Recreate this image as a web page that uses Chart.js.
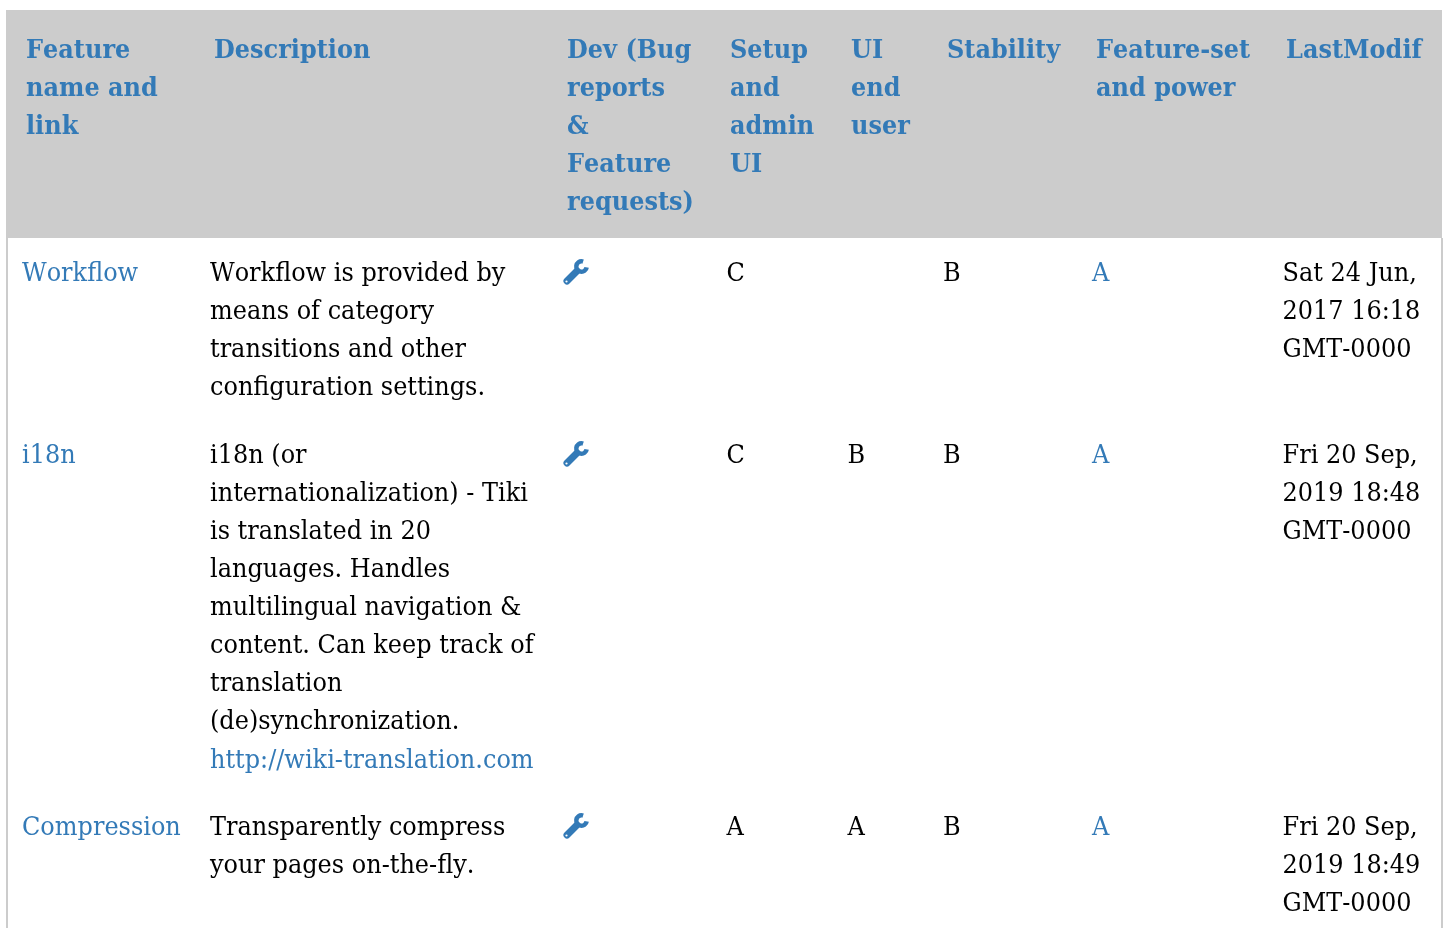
<!DOCTYPE html>
<html>
<head>
<meta charset="utf-8">
<title>Features</title>
<script src="https://cdn.jsdelivr.net/npm/chart.js@4"></script>
<style>
  html, body { margin: 0; padding: 0; background: #fff; overflow: hidden; }
  canvas { display: block; }
</style>
</head>
<body>
<canvas id="out" width="1448" height="928"></canvas>
<script>
// table content
const headers = [
  ["Feature", "name and", "link"],
  ["Description"],
  ["Dev (Bug", "reports", "&", "Feature", "requests)"],
  ["Setup", "and", "admin", "UI"],
  ["UI", "end", "user"],
  ["Stability"],
  ["Feature-set", "and power"],
  ["LastModif"]
];
const featureNames = ["Workflow", "i18n", "Compression"];
const descriptions = [
  ["Workflow is provided by", "means of category", "transitions and other", "configuration settings."],
  ["i18n (or", "internationalization) - Tiki", "is translated in 20", "languages. Handles", "multilingual navigation &", "content. Can keep track of", "translation", "(de)synchronization."],
  ["Transparently compress", "your pages on-the-fly."]
];
const descriptionLinks = [null, "http://wiki-translation.com", null];
const setupGrades = ["C", "C", "A"];
const uiGrades = ["", "B", "A"];
const stabilityGrades = ["B", "B", "B"];
const featureSetGrades = ["A", "A", "A"];
const lastModified = [
  ["Sat 24 Jun,", "2017 16:18", "GMT-0000"],
  ["Fri 20 Sep,", "2019 18:48", "GMT-0000"],
  ["Fri 20 Sep,", "2019 18:49", "GMT-0000"]
];

// layout, in page pixels
const headerX = [26, 214, 567, 730, 851, 947, 1096, 1286];
const bodyX = [22, 210, 563, 726.5, 847.5, 943, 1092, 1282.5];
const rowBaseline = [280.7, 462.7, 834.7];
const headerBaseline = 58;
const lineStep = 38;
const textStretch = 1.1; // the reference glyphs are a bit taller than they are wide
const linkColor = "#337ab7";
const textFont = '24px "DejaVu Serif"';
const headerFont = 'bold 24px "DejaVu Serif"';

// wrench icon used as the point style of the Dev column
function makeWrench() {
  const c = document.createElement("canvas");
  c.width = 30;
  c.height = 30;
  const g = c.getContext("2d");
  g.strokeStyle = linkColor;
  g.lineCap = "round";
  g.lineWidth = 7;
  g.beginPath();
  g.moveTo(6, 24);
  g.lineTo(16, 14);
  g.stroke();
  g.lineCap = "butt";
  g.lineWidth = 4.5;
  g.beginPath();
  g.arc(20.5, 9.5, 5.2, 0.05 * Math.PI, 1.6 * Math.PI);
  g.stroke();
  g.fillStyle = "#fff";
  g.beginPath();
  g.arc(5.5, 24.5, 1.1, 0, 2 * Math.PI);
  g.fill();
  return c;
}

const tablePlugin = {
  id: "table",
  beforeDatasetsDraw(chart) {
    const { ctx, scales: { x, y } } = chart;
    const px = v => x.getPixelForValue(v);
    const py = v => y.getPixelForValue(v);
    const put = (text, tx, ty, color) => {
      ctx.save();
      ctx.translate(px(tx), py(ty));
      ctx.scale(1, textStretch);
      ctx.fillStyle = color;
      ctx.fillText(text, 0, 0);
      ctx.restore();
    };
    ctx.save();
    // outer border
    ctx.fillStyle = "#cccccc";
    ctx.fillRect(px(6), py(238), 2, py(928) - py(238));
    ctx.fillRect(px(1441), py(238), 2, py(928) - py(238));
    // header band
    ctx.fillRect(px(6), py(10), 1436, py(238) - py(10));

    ctx.textBaseline = "alphabetic";
    ctx.textAlign = "left";
    ctx.fontKerning = "none";
    ctx.font = headerFont;
    headers.forEach((lines, col) => {
      lines.forEach((line, i) => {
        put(line, headerX[col], headerBaseline + i * lineStep, linkColor);
      });
    });

    ctx.font = textFont;
    rowBaseline.forEach((base, row) => {
      const at = (text, col, i, color) => put(text, bodyX[col], base + i * lineStep, color);
      at(featureNames[row], 0, 0, linkColor);
      descriptions[row].forEach((line, i) => at(line, 1, i, "#000"));
      if (descriptionLinks[row]) {
        put(descriptionLinks[row], bodyX[1], base + descriptions[row].length * lineStep + 1, linkColor);
      }
      at(setupGrades[row], 3, 0, "#000");
      at(uiGrades[row], 4, 0, "#000");
      at(stabilityGrades[row], 5, 0, "#000");
      at(featureSetGrades[row], 6, 0, linkColor);
      lastModified[row].forEach((line, i) => at(line, 7, i, "#000"));
    });
    ctx.restore();
  }
};

new Chart(document.getElementById("out").getContext("2d"), {
  type: "scatter",
  data: {
    datasets: [{
      label: "Dev",
      data: rowBaseline.map(b => ({ x: bodyX[2] + 13, y: Math.round(b) - 9 })),
      pointStyle: makeWrench(),
      pointRadius: 15
    }]
  },
  options: {
    responsive: false,
    animation: false,
    layout: { padding: 0, autoPadding: false },
    plugins: { legend: { display: false }, tooltip: { enabled: false } },
    scales: {
      x: { type: "linear", display: false, min: 0, max: 1448 },
      y: { type: "linear", display: false, min: 0, max: 928, reverse: true }
    }
  },
  plugins: [tablePlugin]
});
</script>
</body>
</html>
